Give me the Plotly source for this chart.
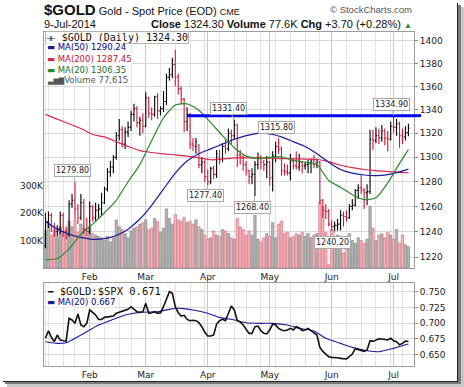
import math
import pandas as pd
import plotly.graph_objects as go

# ------------------------------------------------------------------ data
first_day, last_day = "2014-01-10", "2014-07-09"
market_holidays = ["2014-01-20", "2014-02-17", "2014-04-18", "2014-05-26", "2014-07-04"]

opens = [1229, 1248, 1253, 1244, 1240, 1242, 1253, 1240, 1238, 1262, 1265, 1258, 1251, 1263, 1242,
         1240, 1260, 1251, 1257, 1258, 1263, 1274, 1288, 1292, 1300, 1318, 1323, 1311, 1321, 1325,
         1336, 1341, 1329, 1331,
         1326, 1350, 1337, 1336, 1351, 1339, 1341, 1347, 1368, 1370, 1379, 1368, 1358, 1349, 1330,
         1336, 1311, 1309, 1310, 1294, 1296,
         1284, 1280, 1291, 1286, 1300, 1298, 1309, 1307, 1320, 1318, 1327, 1302, 1300, 1294, 1289,
         1284, 1286, 1294, 1300, 1296, 1294,
         1296, 1283, 1301, 1309, 1307, 1289, 1288, 1287, 1297, 1293, 1292, 1296, 1293, 1294, 1295,
         1297, 1294, 1296, 1265, 1257, 1256,
         1246, 1244, 1245, 1246, 1253, 1252, 1251, 1260, 1261, 1273, 1275, 1273, 1271, 1272, 1315,
         1314, 1318, 1316, 1322, 1316, 1315,
         1326, 1325, 1328, 1318, 1317, 1320.6]
highs = [1255, 1256, 1255, 1247, 1245, 1256, 1255, 1244, 1265, 1270, 1279.8, 1262, 1270, 1266, 1251,
         1264, 1261, 1263, 1262, 1271, 1276, 1291, 1297, 1302, 1321, 1332, 1326, 1325, 1330, 1339,
         1345, 1343, 1334, 1337,
         1355, 1351, 1342, 1352, 1354, 1343, 1356, 1371, 1376, 1385, 1392, 1371, 1360, 1350, 1342,
         1337, 1316, 1316, 1311, 1300, 1298,
         1290, 1292, 1293, 1306, 1306, 1312, 1315, 1324, 1323, 1331.4, 1328, 1306, 1302, 1297, 1290,
         1291, 1297, 1304, 1302, 1298, 1301,
         1297, 1305, 1313, 1315.8, 1309, 1295, 1294, 1303, 1299, 1305, 1303, 1297, 1296, 1298, 1299,
         1302, 1299, 1297, 1266, 1262, 1258,
         1249, 1248, 1250, 1257, 1256, 1257, 1262, 1266, 1274, 1278, 1285, 1275, 1278, 1323, 1323,
         1325, 1324, 1327, 1324, 1322, 1330,
         1334.9, 1332, 1330, 1324, 1326, 1328]
lows = [1227, 1243, 1240, 1236, 1236, 1238, 1236, 1234, 1236, 1259, 1250, 1246, 1249, 1238, 1237,
        1238, 1248, 1248, 1251, 1253, 1262, 1272, 1284, 1287, 1298, 1314, 1308, 1307, 1317, 1322,
        1330, 1325, 1318, 1320,
        1325, 1333, 1331, 1334, 1332, 1335, 1338, 1344, 1365, 1367, 1360, 1353, 1345, 1321, 1322,
        1307, 1305, 1303, 1291, 1287, 1280,
        1277.4, 1278, 1282, 1283, 1294, 1296, 1303, 1305, 1311, 1315, 1292, 1294, 1289, 1285, 1278,
        1278, 1268.4, 1290, 1290, 1289, 1283,
        1277, 1272, 1296, 1303, 1285, 1285, 1285, 1281, 1290, 1290, 1289, 1287, 1290, 1287, 1287,
        1291, 1291, 1262, 1251, 1250, 1244,
        1240.5, 1240.2, 1240.8, 1241, 1244, 1248, 1250, 1257, 1260, 1266, 1270, 1258, 1261, 1270, 1306,
        1312, 1311, 1313, 1310, 1305, 1314,
        1320, 1318, 1308, 1311, 1314, 1317.5]
closes = [1248, 1253, 1244, 1240, 1242, 1253, 1240, 1238, 1262, 1265, 1258, 1251, 1263, 1242, 1240,
          1260, 1251, 1257, 1258, 1263, 1274, 1288, 1292, 1300, 1318, 1323, 1311, 1321, 1325, 1336,
          1341, 1329, 1331, 1326,
          1350, 1337, 1336, 1351, 1339, 1341, 1347, 1368, 1370, 1379, 1368, 1358, 1349, 1330, 1336,
          1311, 1310, 1313, 1294, 1296, 1284,
          1280, 1291, 1286, 1303, 1298, 1309, 1307, 1320, 1318, 1327, 1302, 1300, 1294, 1289, 1284,
          1286, 1294, 1300, 1296, 1294, 1296,
          1283, 1301, 1309, 1307, 1289, 1288, 1287, 1297, 1293, 1292, 1296, 1293, 1294, 1295, 1297,
          1294, 1296, 1265, 1257, 1256, 1246,
          1244, 1245, 1246, 1253, 1252, 1251, 1260, 1261, 1273, 1275, 1273, 1271, 1272, 1315, 1314,
          1318, 1316, 1322, 1316, 1315, 1326,
          1325, 1328, 1318, 1317, 1320.6, 1324.3]
close_before_first = 1229.0

volumes_k = [135, 165, 120, 140, 110, 150, 125, 140, 170, 150, 175, 130, 160, 145, 120,
             150, 125, 120, 115, 110, 100, 115, 95, 110, 175, 150, 140, 125, 110, 135, 145, 150, 160, 165,
             175, 140, 145, 180, 170, 130, 145, 215, 180, 160, 195, 175, 170, 185, 165, 170, 160, 175, 150, 140, 120,
             105, 110, 135, 120, 115, 140, 135, 125, 110, 105, 180, 150, 140, 120, 135, 120, 192, 105, 95, 110, 125,
             115, 165, 110, 160, 171, 125, 130, 110, 115, 125, 120, 130, 115, 125, 110, 120, 125, 240, 225, 130, 12,
             140, 110, 120, 100, 55, 100, 125, 100, 90, 110, 100, 90, 105, 225, 145, 100, 120, 125, 110, 130, 120,
             105, 140, 90, 120, 85, 77.615]

ma_days = [0, 4, 8, 12, 16, 20, 24, 28, 32, 36, 40, 44, 48, 52, 56, 60, 64, 68, 72, 76, 80, 84, 88,
           92, 96, 100, 104, 108, 112, 116, 120, 123]
ma50 = [1248, 1242, 1238, 1235.5, 1234, 1234.5, 1237, 1242, 1250, 1261, 1274, 1287, 1297, 1303, 1307,
        1311, 1315, 1318, 1320, 1319.5, 1317, 1313, 1309, 1303, 1296, 1290, 1287, 1285.5, 1285, 1285.8,
        1288, 1290.24]
ma200 = [1336, 1332, 1328, 1324, 1319, 1317, 1313, 1309, 1305.5, 1304, 1302.8, 1302, 1301, 1299.5, 1298,
         1298.5, 1299.5, 1299.5, 1299.5, 1299.3, 1299, 1298.8, 1298.5, 1298.2, 1296.5, 1293.5, 1291.5,
         1290, 1289, 1288.3, 1287.7, 1287.45]
ma20 = [1218, 1219, 1226.5, 1238, 1246, 1255, 1265, 1280, 1294, 1314, 1333, 1344, 1345, 1339.5, 1329,
        1318, 1308, 1301, 1299, 1300, 1300.5, 1297.5, 1296, 1294, 1281, 1275.5, 1269.5, 1265.5, 1267,
        1279, 1295, 1306.35]

ratio = [0.676, 0.688, 0.6776, 0.6707, 0.6813, 0.6733, 0.6722, 0.6717, 0.7077, 0.7051, 0.6998, 0.7146,
         0.6971, 0.6945, 0.6998, 0.721, 0.7172, 0.713, 0.7061, 0.706, 0.7093, 0.7104, 0.7104, 0.7114,
         0.7157, 0.7172, 0.7183, 0.7199, 0.722, 0.7262, 0.722, 0.7183, 0.7172, 0.7183, 0.7315, 0.7157,
         0.7167, 0.7183, 0.7157, 0.7167, 0.7262, 0.7384, 0.75, 0.7474, 0.7262, 0.7167, 0.7114, 0.7125,
         0.7061, 0.704, 0.7046, 0.704, 0.7008, 0.6945, 0.6855, 0.6797, 0.6797, 0.6813, 0.6987, 0.704,
         0.7061, 0.704, 0.7157, 0.7273, 0.721, 0.704, 0.7019, 0.6971, 0.6903, 0.6839, 0.6839, 0.6945,
         0.6955, 0.6881, 0.6839, 0.6829, 0.6892, 0.6987, 0.6971, 0.6918, 0.6892, 0.6881, 0.6892, 0.6918,
         0.6892, 0.6945, 0.6924, 0.6881, 0.6892, 0.6918, 0.6881, 0.6839, 0.6813, 0.6617, 0.6553, 0.6511,
         0.6469, 0.6458, 0.6458, 0.6453, 0.6442, 0.6432, 0.6432, 0.6469, 0.6511, 0.6596, 0.6585, 0.6569,
         0.6553, 0.6575, 0.6723, 0.6712, 0.6733, 0.6754, 0.6749, 0.6739, 0.6733, 0.676, 0.6722, 0.6707,
         0.6659, 0.668, 0.6717, 0.671]
ratio_ma_days = [0, 4, 7, 11, 15, 18, 23, 27, 32, 38, 42, 46, 50, 55, 59, 64, 68, 73, 77, 82, 86, 91,
                 95, 100, 104, 109, 113, 118, 123]
ratio_ma20 = [0.6707, 0.668, 0.6691, 0.6786, 0.6892, 0.6971, 0.7061, 0.713, 0.7172, 0.7183, 0.722,
              0.7236, 0.721, 0.7157, 0.7093, 0.7051, 0.7008, 0.6998, 0.6998, 0.6971, 0.6918, 0.6876,
              0.676, 0.668, 0.6617, 0.6564, 0.6548, 0.6601, 0.667]

price_ticks = [1220, 1240, 1260, 1280, 1300, 1320, 1340, 1360, 1380, 1400]
volume_ticks = [100000, 200000, 300000]
volume_tick_labels = ["100K", "200K", "300K"]
ratio_ticks = [0.650, 0.675, 0.700, 0.725, 0.750]

trendline_start = "2014-03-21"
trendline_level = 1334.90
label_points = [("2014-01-27", "high"), ("2014-04-01", "low"), ("2014-04-14", "high"),
                ("2014-04-24", "low"), ("2014-05-06", "high"), ("2014-06-03", "low"),
                ("2014-07-01", "high")]

# ------------------------------------------------------------------ derived
dates = [d for d in pd.bdate_range(first_day, last_day) if d.strftime("%Y-%m-%d") not in market_holidays]
n = len(dates)
assert n == len(closes) == len(opens) == len(highs) == len(lows) == len(volumes_k) == len(ratio)
pos = {d.strftime("%Y-%m-%d"): i for i, d in enumerate(dates)}
xs = list(range(n))
volumes = [v * 1000 for v in volumes_k]

month_idx, month_txt, week_idx = [], [], []
for i, d in enumerate(dates):
    if i > 0 and d.month != dates[i - 1].month:
        month_idx.append(i)
        month_txt.append(d.strftime("%b"))
    if i == 0 or d.weekday() < dates[i - 1].weekday():
        week_idx.append(i)

prev = [close_before_first] + closes[:-1]
up = [c >= p for c, p in zip(closes, prev)]

BLACK, RED = "#000000", "#d6143a"
W, H = 464, 387
L, R = 44, 414
MT, MB = 32, 268
LT, LB = 283, 366


def px(v):
    return v / W


def py(v):
    return 1 - v / H


x_range = [-0.5, n - 1 + 1.9]

fig = go.Figure()

# volume (base axis y, behind price)
fig.add_trace(go.Bar(
    x=xs, y=volumes, width=0.82,
    marker=dict(color=["#b3b3b3" if u else "#f1b3ba" for u in up],
                line=dict(color=["#858585" if u else "#dc6a7a" for u in up], width=0.6)),
    xaxis="x", yaxis="y", hoverinfo="skip"))

# moving averages on price axis
for vals, col in [(ma200, "#d8284f"), (ma50, "#1c1c9c"), (ma20, "#2a8a2a")]:
    fig.add_trace(go.Scatter(x=ma_days, y=vals, mode="lines",
                             line=dict(color=col, width=1.2, shape="spline", smoothing=0.6),
                             xaxis="x", yaxis="y2", hoverinfo="skip"))

# OHLC bars (coloured by close vs previous close)
for flag, col in [(True, BLACK), (False, RED)]:
    idx = [i for i in xs if up[i] == flag]
    fig.add_trace(go.Ohlc(
        x=idx, open=[opens[i] for i in idx], high=[highs[i] for i in idx],
        low=[lows[i] for i in idx], close=[closes[i] for i in idx],
        increasing=dict(line=dict(color=col, width=1.1)), decreasing=dict(line=dict(color=col, width=1.1)),
        tickwidth=0.4, xaxis="x", yaxis="y2", hoverinfo="skip"))

# horizontal trend line at the high
fig.add_trace(go.Scatter(x=[pos[trendline_start], n + 3], y=[trendline_level, trendline_level], mode="lines",
                         line=dict(color="#0000ff", width=3), xaxis="x", yaxis="y2", hoverinfo="skip"))

# ratio panel
fig.add_trace(go.Scatter(x=ratio_ma_days, y=ratio_ma20, mode="lines",
                         line=dict(color="#1c1c9c", width=1.1, shape="spline", smoothing=0.6),
                         xaxis="x2", yaxis="y3", hoverinfo="skip"))
fig.add_trace(go.Scatter(x=xs, y=ratio, mode="lines", line=dict(color="#111111", width=1.6),
                         xaxis="x2", yaxis="y3", hoverinfo="skip"))

tickfont = dict(family="DejaVu Sans", size=9, color="#222222")
xcommon = dict(range=x_range, tickmode="array", tickvals=month_idx, ticktext=month_txt,
               showgrid=True, gridcolor="#c6c6c6", gridwidth=1,
               minor=dict(tickmode="array", tickvals=week_idx, showgrid=True, gridcolor="#e3e3e3", gridwidth=1),
               showline=True, linecolor="#9c9c9c", linewidth=1, mirror=True, ticks="",
               tickfont=tickfont, zeroline=False, fixedrange=True,
               rangeslider=dict(visible=False))

fig.update_layout(
    width=W, height=H, margin=dict(l=0, r=0, t=0, b=0),
    paper_bgcolor="white", plot_bgcolor="white", showlegend=False,
    font=dict(family="DejaVu Sans", size=9, color="#222222"),
    xaxis=dict(domain=[px(L), px(R)], anchor="y", **xcommon),
    yaxis=dict(domain=[py(MB), py(MT)], anchor="x", side="left", range=[0, 236 / 27.5 * 100000],
               tickmode="array", tickvals=volume_ticks, ticktext=volume_tick_labels,
               showgrid=False, zeroline=False, showline=False, ticks="", tickfont=tickfont),
    yaxis2=dict(overlaying="y", anchor="x", side="right", type="log",
                range=[math.log10(1211.7), math.log10(1407.8)],
                tickmode="array", tickvals=price_ticks, ticktext=[str(t) for t in price_ticks],
                showgrid=True, gridcolor="#d9d9d9", zeroline=False,
                showline=True, linecolor="#9c9c9c", mirror=True, ticks="outside", ticklen=3,
                tickcolor="#888888", tickfont=tickfont),
    xaxis2=dict(domain=[px(L), px(R)], anchor="y3", **xcommon),
    yaxis3=dict(domain=[py(LB), py(LT)], anchor="x2", side="right", range=[0.6321, 0.7638],
                tickmode="array", tickvals=ratio_ticks, ticktext=[f"{t:.3f}" for t in ratio_ticks],
                showgrid=True, gridcolor="#d9d9d9", zeroline=False,
                showline=True, linecolor="#9c9c9c", mirror=True, ticks="outside", ticklen=3,
                tickcolor="#888888", tickfont=tickfont),
)

ann = []
# header
ann.append(dict(x=px(43), y=py(9), xref="paper", yref="paper", xanchor="left", yanchor="middle", showarrow=False,
                text="<span style='font-size:15px'><b>$GOLD</b></span> Gold - Spot Price (EOD) "
                     "<span style='font-size:9px'>CME</span>",
                font=dict(family="Liberation Sans", size=11, color="#111111"), borderpad=0))
ann.append(dict(x=px(414), y=py(9), xref="paper", yref="paper", xanchor="right", yanchor="middle", showarrow=False,
                text="© StockCharts.com", font=dict(family="Liberation Sans", size=9.5, color="#555555")))
ann.append(dict(x=px(43), y=py(24), xref="paper", yref="paper", xanchor="left", yanchor="middle", showarrow=False,
                text=dates[-1].strftime("%-d-%b-%Y"), font=dict(family="Liberation Sans", size=11, color="#111111"),
                borderpad=0))
chg = closes[-1] - closes[-2]
hdr = (f"<b>Close</b> {closes[-1]:.2f} <b>Volume</b> {volumes_k[-1]:.1f}K "
       f"<b>Chg</b> {chg:+.2f} ({chg / closes[-2] * 100:+.2f}%) "
       f"<span style='color:#2e8b2e;font-size:8px'>▲</span>")
ann.append(dict(x=px(413), y=py(24), xref="paper", yref="paper", xanchor="right", yanchor="middle", showarrow=False,
                text=hdr, font=dict(family="Liberation Sans", size=11, color="#111111"), borderpad=0))

# main legend
ann.append(dict(x=px(45), y=py(37), xref="paper", yref="paper", xanchor="left", yanchor="middle", showarrow=False,
                text=f"<span style='font-size:8px'>⊣⊢</span> $GOLD (Daily) {closes[-1]:.2f}",
                font=dict(family="DejaVu Sans Mono", size=10, color="#111111"),
                bgcolor="white", bordercolor="#b5b5b5", borderwidth=1, borderpad=0))
leg = [(f"MA(50) {ma50[-1]:.2f}", "#00007f", "#1c1c9c", 47),
       (f"MA(200) {ma200[-1]:.2f}", "#c8102e", "#d8284f", 58.5),
       (f"MA(20) {ma20[-1]:.2f}", "#1e6b1e", "#2a8a2a", 69.5)]
for txt, tcol, lcol, yy in leg:
    ann.append(dict(x=px(46), y=py(yy), xref="paper", yref="paper", xanchor="left", yanchor="middle",
                    showarrow=False, text=f"<span style='color:{lcol}'>▬</span> {txt}",
                    font=dict(family="DejaVu Sans", size=8.5, color=tcol),
                    bgcolor="rgba(255,255,255,0.85)", borderpad=0))
ann.append(dict(x=px(46), y=py(80), xref="paper", yref="paper", xanchor="left", yanchor="middle", showarrow=False,
                text=f"<span style='font-size:7px'>▃▆▇</span>Volume {int(round(volumes_k[-1] * 1000)):,}",
                font=dict(family="DejaVu Sans", size=8.5, color="#555555"),
                bgcolor="rgba(255,255,255,0.85)", borderpad=0))

# lower legend
ann.append(dict(x=px(46), y=py(291), xref="paper", yref="paper", xanchor="left", yanchor="middle", showarrow=False,
                text=f"<span style='font-size:9px'>━</span> $GOLD:$SPX {ratio[-1]:.3f}",
                font=dict(family="DejaVu Sans Mono", size=10.5, color="#111111"),
                bgcolor="rgba(255,255,255,0.85)", borderpad=0))
ann.append(dict(x=px(46), y=py(301.5), xref="paper", yref="paper", xanchor="left", yanchor="middle", showarrow=False,
                text=f"<span style='color:#1c1c9c'>▬</span> MA(20) {ratio_ma20[-1]:.3f}",
                font=dict(family="DejaVu Sans", size=8.5, color="#00007f"),
                bgcolor="rgba(255,255,255,0.85)", borderpad=0))

# price labels
for dstr, kind in label_points:
    i = pos[dstr]
    v = highs[i] if kind == "high" else lows[i]
    ann.append(dict(x=i, y=math.log10(v), xref="x", yref="y2", text=f"{v:.2f}", showarrow=True,
                    ax=-6 if dstr == "2014-04-14" else -2, ay=-11 if kind == "high" else 11,
                    arrowhead=0, arrowwidth=1, arrowcolor="#aaaaaa", standoff=0,
                    font=dict(family="DejaVu Sans", size=8, color="#222222"),
                    bgcolor="white", bordercolor="#a8a8a8", borderwidth=1, borderpad=1))
fig.update_layout(annotations=ann)

shapes = [
    dict(type="line", xref="paper", yref="y2", x0=px(R), x1=px(R + 7), y0=trendline_level, y1=trendline_level,
         line=dict(color="#0000ff", width=3)),
    dict(type="rect", xref="paper", yref="paper", x0=px(457), x1=px(458), y0=py(382), y1=py(3),
         fillcolor="#222222", line_width=0),
    dict(type="rect", xref="paper", yref="paper", x0=px(458), x1=px(461), y0=py(384), y1=py(5),
         fillcolor="#7a7a7a", line_width=0),
    dict(type="rect", xref="paper", yref="paper", x0=px(461), x1=px(464), y0=py(387), y1=py(7),
         fillcolor="#c8c8c8", line_width=0),
    dict(type="rect", xref="paper", yref="paper", x0=px(3), x1=px(458), y0=py(382), y1=py(381),
         fillcolor="#222222", line_width=0),
    dict(type="rect", xref="paper", yref="paper", x0=px(5), x1=px(461), y0=py(384), y1=py(382),
         fillcolor="#7a7a7a", line_width=0),
    dict(type="rect", xref="paper", yref="paper", x0=px(7), x1=px(464), y0=py(387), y1=py(384),
         fillcolor="#c8c8c8", line_width=0),
]
fig.update_layout(shapes=shapes)

fig.write_html("out.html", config={"displayModeBar": False},
               post_script="document.body.style.margin='0';")
